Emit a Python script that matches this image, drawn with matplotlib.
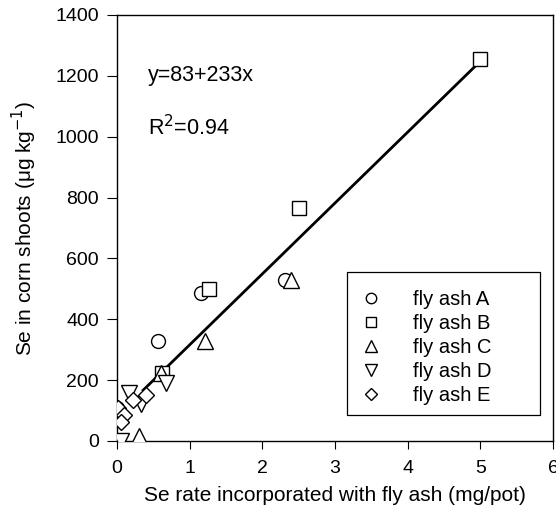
import numpy as np
import matplotlib.pyplot as plt
from matplotlib.patches import Rectangle

plt.rcParams['font.family'] = ['Liberation Sans', 'DejaVu Sans']

# fly ash data: Se rate (mg/pot) vs Se in corn shoots (ug/kg)
ax_A = [0.0, 0.57, 1.16, 2.31]
ay_A = [108, 327, 486, 530]
ax_B = [0.62, 1.27, 2.5, 5.0]
ay_B = [225, 499, 765, 1255]
ax_C = [0.3, 0.6, 1.21, 2.4]
ay_C = [15, 222, 327, 528]
ax_D = [0.05, 0.16, 0.33, 0.68]
ay_D = [0, 158, 120, 190]
ax_E = [0.02, 0.1, 0.05, 0.22, 0.4]
ay_E = [108, 85, 62, 135, 150]

# regression
a, b = 83, 233
fit_x = np.array([0.36, 4.93])

fig = plt.figure(figsize=(5.56, 5.15), dpi=100)
ax = fig.add_axes([0.2104, 0.1437, 0.7842, 0.8272])

ax.plot(fit_x, a + b * fit_x, color='black', lw=2, zorder=2)

mk = dict(mfc='white', mec='black', mew=1.0, ls='none', zorder=3)
ax.plot(ax_A, ay_A, marker='o', ms=10, label='fly ash A', **mk)
ax.plot(ax_B, ay_B, marker='s', ms=9.5, label='fly ash B', **mk)
ax.plot(ax_C, ay_C, marker='^', ms=11, label='fly ash C', **mk)
ax.plot(ax_D, ay_D, marker='v', ms=11, label='fly ash D', **mk)
ax.plot(ax_E, ay_E, marker='D', ms=8.5, label='fly ash E', **mk)

ax.text(0.42, 1200, 'y=83+233x', fontsize=15.5, va='center')
ax.text(0.42, 1030, 'R$^2$=0.94', fontsize=15.5, va='center')

ax.set_xlim(0, 6)
ax.set_ylim(0, 1400)
ax.set_xticks(range(0, 7))
ax.set_yticks(range(0, 1401, 200))
ax.tick_params(axis='y', direction='out', length=7, pad=6, labelsize=14)
ax.tick_params(axis='x', direction='out', length=6, pad=8, labelsize=14)
for sp in ax.spines.values():
    sp.set_linewidth(1.0)
ax.set_xlabel('Se rate incorporated with fly ash (mg/pot)', fontsize=15, labelpad=6)
ax.set_ylabel('Se in corn shoots (\u03bcg kg$^{-1}$)', fontsize=15, labelpad=12)

leg = ax.legend(loc='upper left', bbox_to_anchor=(0.548, 0.354), fontsize=14.5,
                frameon=False, borderpad=0, borderaxespad=0,
                handlelength=1.5, handletextpad=1.34, labelspacing=0.25,
                markerscale=0.75)
ax.add_patch(Rectangle((0.5275, 0.061), 0.4425, 0.336, transform=ax.transAxes,
                       fill=False, edgecolor='black', lw=0.9, zorder=4))

fig.savefig('out.png', dpi=100)
